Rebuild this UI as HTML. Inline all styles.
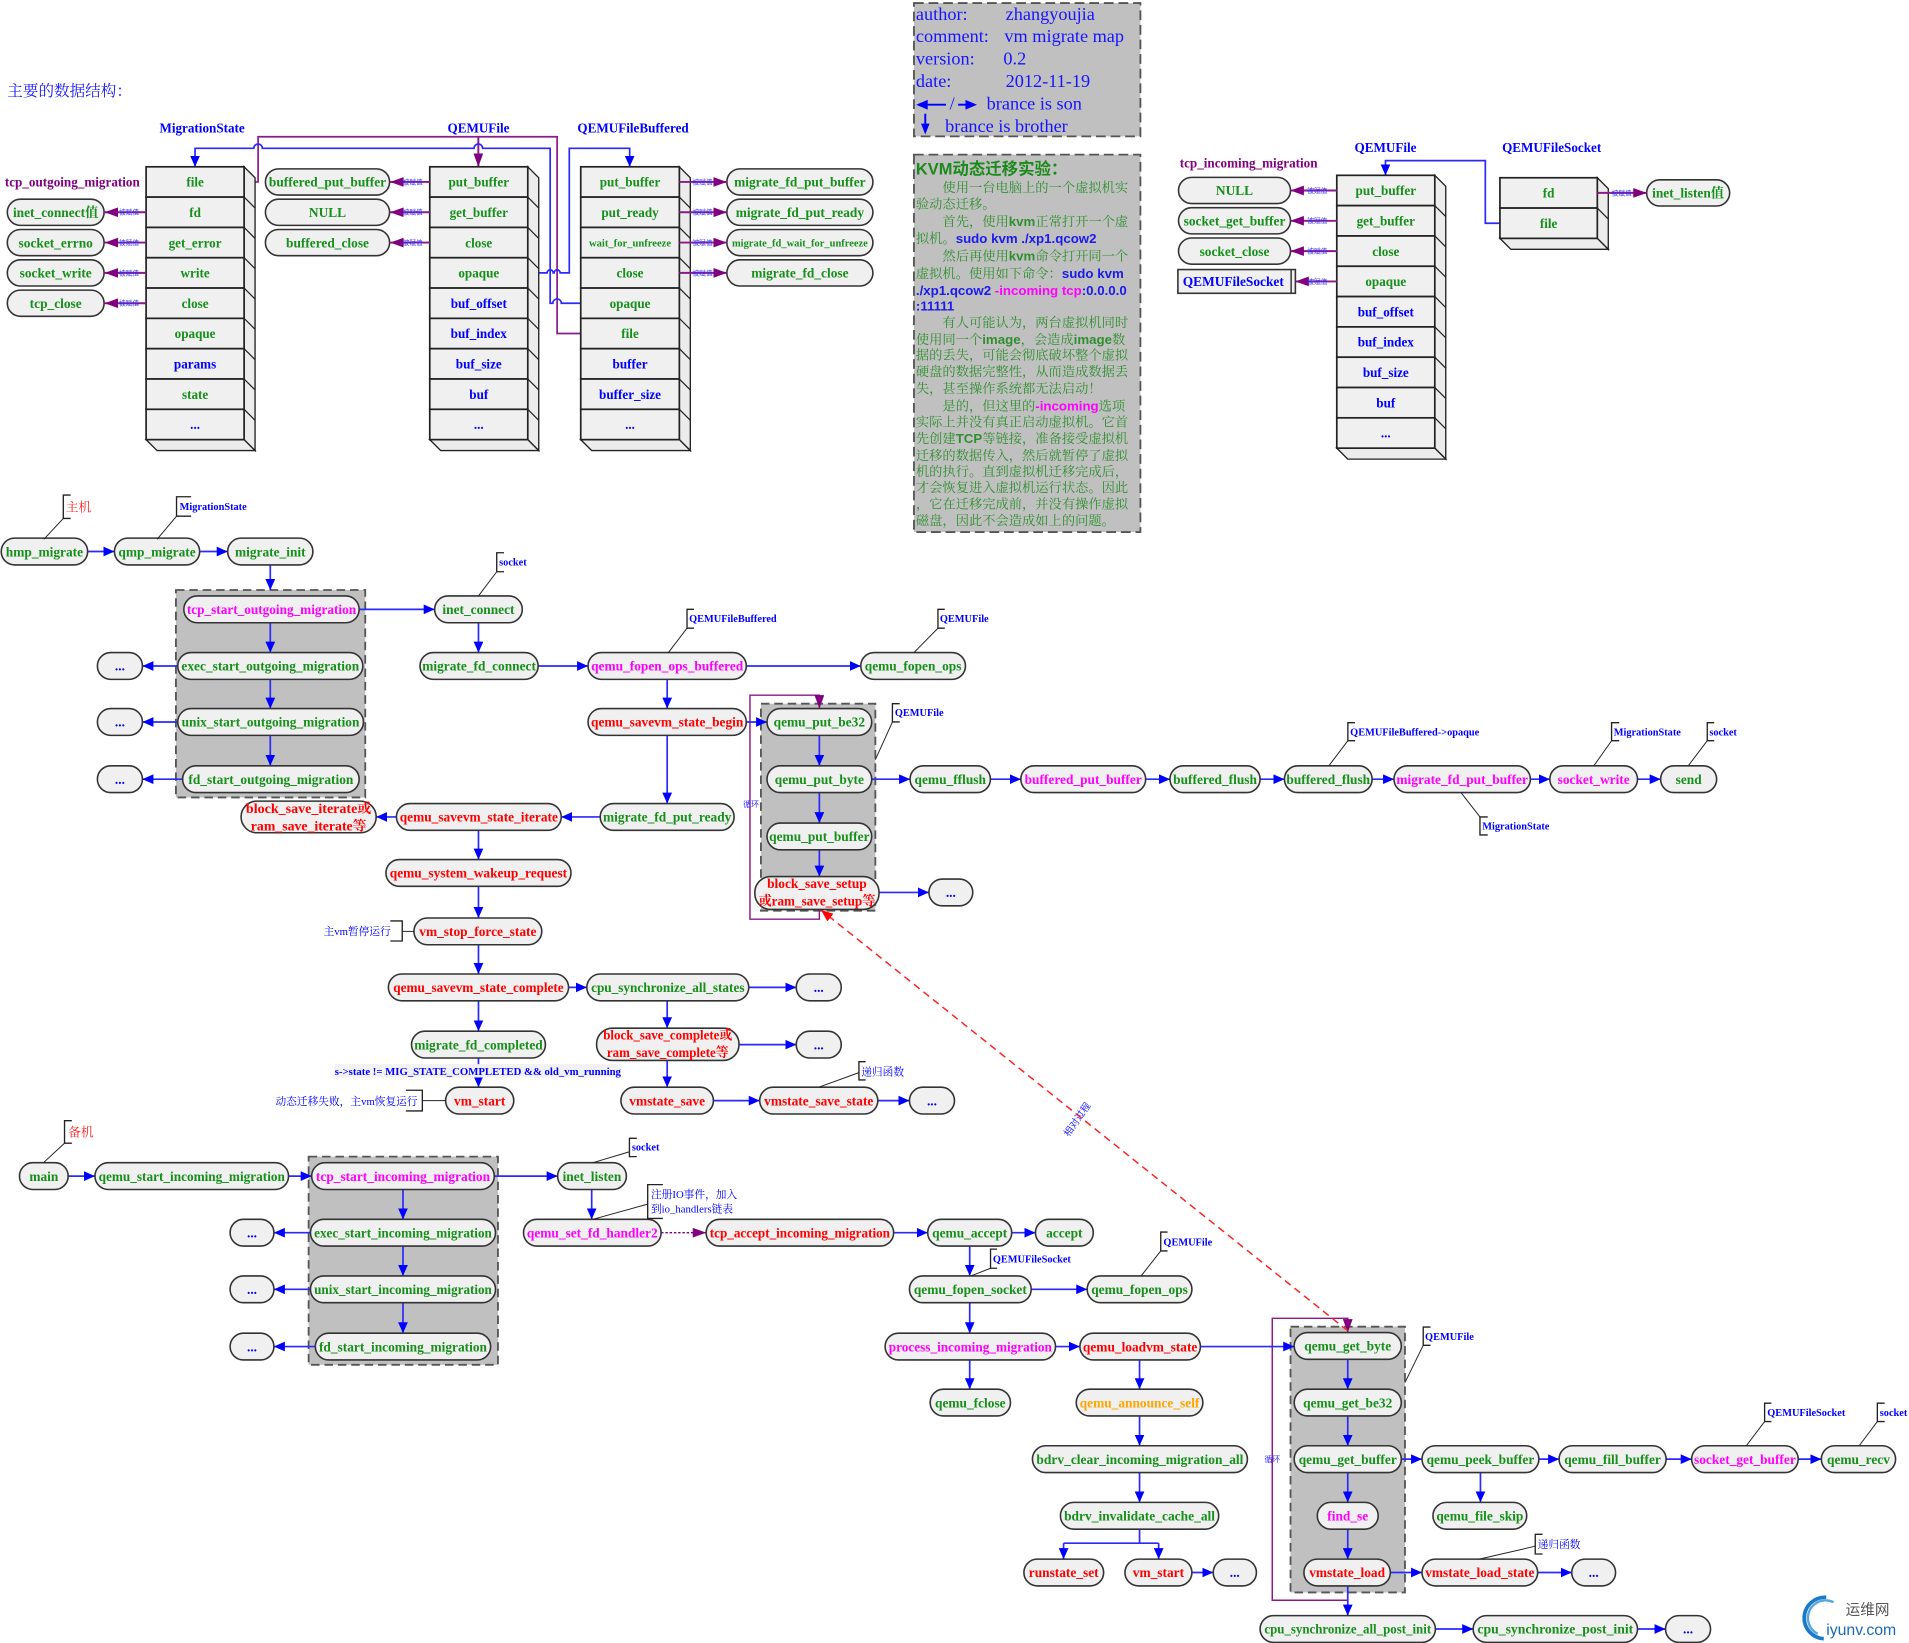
<!DOCTYPE html>
<html><head><meta charset="utf-8"><style>
html,body{margin:0;padding:0;background:#fff;}
svg{display:block}
.n{fill:#f0f0f0;stroke:#333;stroke-width:1.3}
.t{font-family:"Liberation Serif","Noto Serif CJK SC",serif;font-weight:bold;font-size:11px;text-anchor:middle}
.g{fill:#16901a}
.m{fill:#ff00ff}
.r{fill:#ff0000}
.b{fill:#0000ff}
.o{fill:#ffa500}
.p{fill:#800080}
.a{stroke:#2a2aff;stroke-width:1.4;fill:none;marker-end:url(#ab)}
.grp{fill:#c0c0c0;stroke:#555;stroke-width:1.5;stroke-dasharray:7 4}
.c{font-family:"Liberation Serif","Noto Serif CJK SC",serif;font-weight:bold;font-size:8.5px;fill:#0000ff}
.cz{font-family:"Liberation Serif","Noto Serif CJK SC",serif;font-size:8.8px;fill:#0000ff}
.br{fill:none;stroke:#222;stroke-width:1.1}
.ld{stroke:#222;stroke-width:0.8;fill:none}
.row{fill:#f0f0f0;stroke:#222;stroke-width:1.4}
.dp{fill:#ececec;stroke:#222;stroke-width:1.1}
.dg{stroke:#222;stroke-width:1}
.st{font-family:"Liberation Serif",serif;font-weight:bold;font-size:10.8px;text-anchor:middle}
.pa{stroke:#8a1a8a;stroke-width:1.6;fill:none;marker-end:url(#ap)}
.bz{font-family:"Noto Sans CJK SC",sans-serif;font-size:5.5px;fill:#3030ff;text-anchor:middle}
.kv{font-family:"Liberation Serif","Noto Serif CJK SC",serif;font-size:10.9px;fill:#2f8f2f}
.kb{font-family:"Liberation Sans",sans-serif;font-weight:bold}
.au{font-family:"Liberation Serif",serif;font-size:15px;fill:#1515ff}
</style></head><body>
<svg width="1909" height="1643" viewBox="0 0 1568 1349.5" preserveAspectRatio="none" xmlns="http://www.w3.org/2000/svg">
<defs>
<marker id="ab" markerUnits="userSpaceOnUse" markerWidth="9" markerHeight="8" refX="9" refY="4" orient="auto" viewBox="0 0 9 8"><path d="M0,0L9,4L0,8z" fill="#0000ff"/></marker>
<marker id="ap" markerUnits="userSpaceOnUse" markerWidth="11" markerHeight="8" refX="11" refY="4" orient="auto" viewBox="0 0 11 8"><path d="M0,0L11,4L0,8z" fill="#800080"/></marker>
<marker id="ar" markerUnits="userSpaceOnUse" markerWidth="10" markerHeight="8" refX="10" refY="4" orient="auto" viewBox="0 0 10 8"><path d="M0,0L10,4L0,8z" fill="#ff0000"/></marker>
</defs>
<rect x="0" y="0" width="1568" height="1349.5" fill="#fff"/>

<!-- ===== Title ===== -->
<text x="6" y="79" font-family="Liberation Serif,Noto Serif CJK SC,serif" font-size="12.8" fill="#1a1aff">主要的数据结构：</text>

<!-- ===== Struct labels ===== -->
<text class="st b" x="166" y="109">MigrationState</text>
<text class="st b" x="393" y="109">QEMUFile</text>
<text class="st b" x="520" y="109">QEMUFileBuffered</text>
<text class="st p" x="4" y="153" style="text-anchor:start">tcp_outgoing_migration</text>
<text class="st b" x="1138" y="125">QEMUFile</text>
<text class="st b" x="1274.5" y="125">QEMUFileSocket</text>
<text class="st p" x="969" y="137.5" style="text-anchor:start">tcp_incoming_migration</text>

<!-- ===== top connectors ===== -->
<path d="M200.5,149.45 H212 V112.3 H457.6 V273.95 H477" stroke="#8a1a8a" stroke-width="1.4" fill="none"/>
<path class="pa" d="M392.9,112.3 V137"/>
<path class="a" d="M477,249.05 H461.1 A3.5,3.5 0 0 0 454.1,249.05 H451.9 V121.8 H396.4 A3.5,3.5 0 0 0 389.4,121.8 H215.5 A3.5,3.5 0 0 0 208.5,121.8 H160.2 V137"/>
<path class="a" d="M433.5,224.15 H449.4 A2.5,2.5 0 0 1 454.4,224.15 H455.1 A2.5,2.5 0 0 1 460.1,224.15 H467.6 V121.8 H517.2 V137"/>
<path class="a" d="M1232,183.35 H1220 V131.9 H1138 V144"/>

<!-- ===== Struct A MigrationState ===== -->
<polygon class="dp" points="200.5,137 209.5,146 209.5,370.1 200.5,361.1"/>
<polygon class="dp" points="120,361.1 200.5,361.1 209.5,370.1 129,370.1"/>
<rect class="row" x="120" y="137" width="80.5" height="24.9"/>
<rect class="row" x="120" y="161.9" width="80.5" height="24.9"/>
<rect class="row" x="120" y="186.8" width="80.5" height="24.9"/>
<rect class="row" x="120" y="211.7" width="80.5" height="24.9"/>
<rect class="row" x="120" y="236.6" width="80.5" height="24.9"/>
<rect class="row" x="120" y="261.5" width="80.5" height="24.9"/>
<rect class="row" x="120" y="286.4" width="80.5" height="24.9"/>
<rect class="row" x="120" y="311.3" width="80.5" height="24.9"/>
<rect class="row" x="120" y="336.2" width="80.5" height="24.9"/>
<path class="dg" d="M200.5,161.9 l9,9 M200.5,186.8 l9,9 M200.5,211.7 l9,9 M200.5,236.6 l9,9 M200.5,261.5 l9,9 M200.5,286.4 l9,9 M200.5,311.3 l9,9 M200.5,336.2 l9,9"/>
<text class="st g" x="160.25" y="153.3">file</text>
<text class="st g" x="160.25" y="178.2">fd</text>
<text class="st g" x="160.25" y="203.1">get_error</text>
<text class="st g" x="160.25" y="228">write</text>
<text class="st g" x="160.25" y="252.9">close</text>
<text class="st g" x="160.25" y="277.8">opaque</text>
<text class="st b" x="160.25" y="302.7">params</text>
<text class="st g" x="160.25" y="327.6">state</text>
<text class="st b" x="160.25" y="352.5">...</text>

<!-- ovals A -->
<rect class="n" x="6" y="163.6" width="79.5" height="21.5" rx="10.75"/>
<rect class="n" x="6" y="188.5" width="79.5" height="21.5" rx="10.75"/>
<rect class="n" x="6" y="213.4" width="79.5" height="21.5" rx="10.75"/>
<rect class="n" x="6" y="238.3" width="79.5" height="21.5" rx="10.75"/>
<text class="t g" x="45.75" y="178.2">inet_connect值</text>
<text class="t g" x="45.75" y="203.1">socket_errno</text>
<text class="t g" x="45.75" y="228">socket_write</text>
<text class="t g" x="45.75" y="252.9">tcp_close</text>
<path class="pa" d="M120,174.35 H86"/>
<path class="pa" d="M120,199.25 H86"/>
<path class="pa" d="M120,224.15 H86"/>
<path class="pa" d="M120,249.05 H86"/>
<text class="bz" x="106" y="176.3">被赋值</text>
<text class="bz" x="106" y="201.2">被赋值</text>
<text class="bz" x="106" y="226.1">被赋值</text>
<text class="bz" x="106" y="251">被赋值</text>

<!-- ===== Struct B QEMUFile (out) ===== -->
<polygon class="dp" points="433.5,137 442.5,146 442.5,370.1 433.5,361.1"/>
<polygon class="dp" points="353,361.1 433.5,361.1 442.5,370.1 362,370.1"/>
<rect class="row" x="353" y="137" width="80.5" height="24.9"/>
<rect class="row" x="353" y="161.9" width="80.5" height="24.9"/>
<rect class="row" x="353" y="186.8" width="80.5" height="24.9"/>
<rect class="row" x="353" y="211.7" width="80.5" height="24.9"/>
<rect class="row" x="353" y="236.6" width="80.5" height="24.9"/>
<rect class="row" x="353" y="261.5" width="80.5" height="24.9"/>
<rect class="row" x="353" y="286.4" width="80.5" height="24.9"/>
<rect class="row" x="353" y="311.3" width="80.5" height="24.9"/>
<rect class="row" x="353" y="336.2" width="80.5" height="24.9"/>
<path class="dg" d="M433.5,161.9 l9,9 M433.5,186.8 l9,9 M433.5,211.7 l9,9 M433.5,236.6 l9,9 M433.5,261.5 l9,9 M433.5,286.4 l9,9 M433.5,311.3 l9,9 M433.5,336.2 l9,9"/>
<text class="st g" x="393.25" y="153.3">put_buffer</text>
<text class="st g" x="393.25" y="178.2">get_buffer</text>
<text class="st g" x="393.25" y="203.1">close</text>
<text class="st g" x="393.25" y="228">opaque</text>
<text class="st b" x="393.25" y="252.9">buf_offset</text>
<text class="st b" x="393.25" y="277.8">buf_index</text>
<text class="st b" x="393.25" y="302.7">buf_size</text>
<text class="st b" x="393.25" y="327.6">buf</text>
<text class="st b" x="393.25" y="352.5">...</text>

<rect class="n" x="218" y="138.7" width="102" height="21.5" rx="10.75"/>
<rect class="n" x="218" y="163.6" width="102" height="21.5" rx="10.75"/>
<rect class="n" x="218" y="188.5" width="102" height="21.5" rx="10.75"/>
<text class="t g" x="269" y="153.3">buffered_put_buffer</text>
<text class="t g" x="269" y="178.2">NULL</text>
<text class="t g" x="269" y="203.1">buffered_close</text>
<path class="pa" d="M353,149.45 H320.5"/>
<path class="pa" d="M353,174.35 H320.5"/>
<path class="pa" d="M353,199.25 H320.5"/>
<text class="bz" x="339" y="151.4">被赋值</text>
<text class="bz" x="339" y="176.3">被赋值</text>
<text class="bz" x="339" y="201.2">被赋值</text>

<!-- ===== Struct C QEMUFileBuffered ===== -->
<polygon class="dp" points="558,137 567,146 567,370.1 558,361.1"/>
<polygon class="dp" points="477,361.1 558,361.1 567,370.1 486,370.1"/>
<rect class="row" x="477" y="137" width="81" height="24.9"/>
<rect class="row" x="477" y="161.9" width="81" height="24.9"/>
<rect class="row" x="477" y="186.8" width="81" height="24.9"/>
<rect class="row" x="477" y="211.7" width="81" height="24.9"/>
<rect class="row" x="477" y="236.6" width="81" height="24.9"/>
<rect class="row" x="477" y="261.5" width="81" height="24.9"/>
<rect class="row" x="477" y="286.4" width="81" height="24.9"/>
<rect class="row" x="477" y="311.3" width="81" height="24.9"/>
<rect class="row" x="477" y="336.2" width="81" height="24.9"/>
<path class="dg" d="M558,161.9 l9,9 M558,186.8 l9,9 M558,211.7 l9,9 M558,236.6 l9,9 M558,261.5 l9,9 M558,286.4 l9,9 M558,311.3 l9,9 M558,336.2 l9,9"/>
<text class="st g" x="517.5" y="153.3">put_buffer</text>
<text class="st g" x="517.5" y="178.2">put_ready</text>
<text class="st g" x="517.5" y="202.6" style="font-size:8.7px">wait_for_unfreeze</text>
<text class="st g" x="517.5" y="228">close</text>
<text class="st g" x="517.5" y="252.9">opaque</text>
<text class="st g" x="517.5" y="277.8">file</text>
<text class="st b" x="517.5" y="302.7">buffer</text>
<text class="st b" x="517.5" y="327.6">buffer_size</text>
<text class="st b" x="517.5" y="352.5">...</text>

<rect class="n" x="597" y="138.7" width="120" height="21.5" rx="10.75"/>
<rect class="n" x="597" y="163.6" width="120" height="21.5" rx="10.75"/>
<rect class="n" x="597" y="188.5" width="120" height="21.5" rx="10.75"/>
<rect class="n" x="597" y="213.4" width="120" height="21.5" rx="10.75"/>
<text class="t g" x="657" y="153.3">migrate_fd_put_buffer</text>
<text class="t g" x="657" y="178.2">migrate_fd_put_ready</text>
<text class="t g" x="657" y="202.4" style="font-size:8.6px">migrate_fd_wait_for_unfreeze</text>
<text class="t g" x="657" y="228">migrate_fd_close</text>
<path class="pa" d="M558,149.45 H597"/>
<path class="pa" d="M558,174.35 H597"/>
<path class="pa" d="M558,199.25 H597"/>
<path class="pa" d="M558,224.15 H597"/>
<text class="bz" x="577" y="151.4">被赋值</text>
<text class="bz" x="577" y="176.3">被赋值</text>
<text class="bz" x="577" y="201.2">被赋值</text>
<text class="bz" x="577" y="226.1">被赋值</text>

<!-- ===== Struct D QEMUFile (in) ===== -->
<polygon class="dp" points="1178.5,144 1187.5,153 1187.5,377.1 1178.5,368.1"/>
<polygon class="dp" points="1098,368.1 1178.5,368.1 1187.5,377.1 1107,377.1"/>
<rect class="row" x="1098" y="144" width="80.5" height="24.9"/>
<rect class="row" x="1098" y="168.9" width="80.5" height="24.9"/>
<rect class="row" x="1098" y="193.8" width="80.5" height="24.9"/>
<rect class="row" x="1098" y="218.7" width="80.5" height="24.9"/>
<rect class="row" x="1098" y="243.6" width="80.5" height="24.9"/>
<rect class="row" x="1098" y="268.5" width="80.5" height="24.9"/>
<rect class="row" x="1098" y="293.4" width="80.5" height="24.9"/>
<rect class="row" x="1098" y="318.3" width="80.5" height="24.9"/>
<rect class="row" x="1098" y="343.2" width="80.5" height="24.9"/>
<path class="dg" d="M1178.5,168.9 l9,9 M1178.5,193.8 l9,9 M1178.5,218.7 l9,9 M1178.5,243.6 l9,9 M1178.5,268.5 l9,9 M1178.5,293.4 l9,9 M1178.5,318.3 l9,9 M1178.5,343.2 l9,9"/>
<text class="st g" x="1138.25" y="160.3">put_buffer</text>
<text class="st g" x="1138.25" y="185.2">get_buffer</text>
<text class="st g" x="1138.25" y="210.1">close</text>
<text class="st g" x="1138.25" y="235">opaque</text>
<text class="st b" x="1138.25" y="259.9">buf_offset</text>
<text class="st b" x="1138.25" y="284.8">buf_index</text>
<text class="st b" x="1138.25" y="309.7">buf_size</text>
<text class="st b" x="1138.25" y="334.6">buf</text>
<text class="st b" x="1138.25" y="359.5">...</text>

<rect class="n" x="968" y="145.7" width="92" height="21.5" rx="10.75"/>
<rect class="n" x="968" y="170.6" width="92" height="21.5" rx="10.75"/>
<rect class="n" x="968" y="195.5" width="92" height="21.5" rx="10.75"/>
<rect x="967.5" y="221.4" width="96.5" height="19.5" fill="#f0f0f0" stroke="#333" stroke-width="1.3"/>
<line x1="1060.5" y1="221.4" x2="1060.5" y2="240.9" stroke="#333" stroke-width="1.2"/>
<text class="t g" x="1014" y="160.3">NULL</text>
<text class="t g" x="1014" y="185.2">socket_get_buffer</text>
<text class="t g" x="1014" y="210.1">socket_close</text>
<text class="t b" x="1013" y="235">QEMUFileSocket</text>
<path class="pa" d="M1098,156.45 H1060"/>
<path class="pa" d="M1098,181.35 H1060"/>
<path class="pa" d="M1098,206.25 H1060"/>
<path class="pa" d="M1098,231.15 H1064"/>
<text class="bz" x="1082" y="158.4">被赋值</text>
<text class="bz" x="1082" y="183.3">被赋值</text>
<text class="bz" x="1082" y="208.2">被赋值</text>
<text class="bz" x="1082" y="233.1">被赋值</text>

<!-- ===== Struct E QEMUFileSocket ===== -->
<polygon class="dp" points="1312,146 1321,155 1321,204.8 1312,195.8"/>
<polygon class="dp" points="1232,195.8 1312,195.8 1321,204.8 1241,204.8"/>
<rect class="row" x="1232" y="146" width="80" height="24.9"/>
<rect class="row" x="1232" y="170.9" width="80" height="24.9"/>
<path class="dg" d="M1312,170.9 l9,9"/>
<text class="st g" x="1272" y="162.3">fd</text>
<text class="st g" x="1272" y="187.2">file</text>
<rect class="n" x="1352.5" y="147.7" width="68.2" height="21.5" rx="10.75"/>
<text class="t g" x="1386.6" y="162.3">inet_listen值</text>
<path class="pa" d="M1312,158.45 H1352.5"/>
<text class="bz" x="1332" y="160.4">被赋值</text>

<!-- ===== Author box ===== -->
<rect x="750.7" y="2.5" width="186" height="109.5" fill="#c0c0c0" stroke="#555" stroke-width="1.5" stroke-dasharray="8 4"/>
<text class="au" x="752.3" y="16.3">author:</text>
<text class="au" x="826" y="16.3">zhangyoujia</text>
<text class="au" x="752.3" y="34.7">comment:</text>
<text class="au" x="825" y="34.7">vm migrate map</text>
<text class="au" x="752.3" y="53.1">version:</text>
<text class="au" x="824.2" y="53.1">0.2</text>
<text class="au" x="752.3" y="71.5">date:</text>
<text class="au" x="826" y="71.5">2012-11-19</text>
<path d="M777,86 H760" stroke="#0000ff" stroke-width="1.6"/>
<path d="M752.5,86 L762,82 L762,90 z" fill="#0000ff"/>
<text class="au" x="780" y="89.9">/</text>
<path d="M787,86 H795" stroke="#0000ff" stroke-width="1.6"/>
<path d="M802.5,86 L793,82 L793,90 z" fill="#0000ff"/>
<text class="au" x="810.4" y="89.9">brance is son</text>
<path d="M760,93.4 V103" stroke="#0000ff" stroke-width="1.6"/>
<path d="M760,110.5 L756.5,101.5 L763.5,101.5 z" fill="#0000ff"/>
<text class="au" x="776.3" y="108.3">brance is brother</text>

<!-- ===== KVM box ===== -->
<rect x="750.7" y="127" width="186" height="310" fill="#c0c0c0" stroke="#555" stroke-width="1.5" stroke-dasharray="8 4"/>
<text x="752.3" y="143.5" font-size="13.5" font-weight="bold" fill="#1a8a1a" font-family="Liberation Sans,Noto Sans CJK SC,sans-serif">KVM动态迁移实验：</text>
<text class="kv" x="774.1" y="157.5">使用一台电脑上的一个虚拟机实</text>
<text class="kv" x="752.3" y="171.4">验动态迁移。</text>
<text class="kv" x="774.1" y="185.8">首先，使用<tspan class="kb">kvm</tspan>正常打开一个虚</text>
<text class="kv" x="752.3" y="199.7">拟机。<tspan class="kb" fill="#1a1aee">sudo kvm ./xp1.qcow2</tspan></text>
<text class="kv" x="774.1" y="214.1">然后再使用<tspan class="kb">kvm</tspan>命令打开同一个</text>
<text class="kv" x="752.3" y="228.2">虚拟机。使用如下命令：<tspan class="kb" fill="#1a1aee">sudo kvm</tspan></text>
<text class="kv" x="752.3" y="242.1"><tspan class="kb" fill="#1a1aee">./xp1.qcow2 </tspan><tspan class="kb" fill="#ff00ff">-incoming tcp</tspan><tspan class="kb" fill="#1a1aee">:0.0.0.0</tspan></text>
<text class="kv" x="752.3" y="255.1"><tspan class="kb" fill="#1a1aee">:11111</tspan></text>
<text class="kv" x="774.1" y="268.4">有人可能认为，两台虚拟机同时</text>
<text class="kv" x="752.3" y="282.6">使用同一个<tspan class="kb">image</tspan>，会造成<tspan class="kb">image</tspan>数</text>
<text class="kv" x="752.3" y="295.3">据的丢失，可能会彻底破坏整个虚拟</text>
<text class="kv" x="752.3" y="308.9">硬盘的数据完整性，从而造成数据丢</text>
<text class="kv" x="752.3" y="322.7">失，甚至操作系统都无法启动！</text>
<text class="kv" x="774.1" y="337.2">是的，但这里的<tspan class="kb" fill="#ff00ff">-incoming</tspan>选项</text>
<text class="kv" x="752.3" y="350.5">实际上并没有真正启动虚拟机。它首</text>
<text class="kv" x="752.3" y="364">先创建<tspan class="kb">TCP</tspan>等链接，准备接受虚拟机</text>
<text class="kv" x="752.3" y="377.9">迁移的数据传入，然后就暂停了虚拟</text>
<text class="kv" x="752.3" y="390.9">机的执行。直到虚拟机迁移完成后，</text>
<text class="kv" x="752.3" y="404.2">才会恢复进入虚拟机运行状态。因此</text>
<text class="kv" x="752.3" y="417.5">，它在迁移完成前，并没有操作虚拟</text>
<text class="kv" x="752.3" y="431.1">磁盘，因此不会造成如上的问题。</text>

<!-- ===== Groups ===== -->
<rect class="grp" x="144.5" y="484.6" width="155.5" height="170.4"/>
<rect class="grp" x="625" y="578" width="94" height="170"/>
<rect class="grp" x="253.5" y="950" width="155.5" height="171"/>
<rect class="grp" x="1060" y="1089.7" width="94" height="218.3"/>

<!-- ===== Loops ===== -->
<path class="pa" d="M673,747 V755 H616 V571 H673 V582" style="stroke-width:1.2"/>
<path class="pa" d="M1107,1302.6 V1314.4 H1045 V1082.8 H1107 V1094.5" style="stroke-width:1.2"/>
<text x="617" y="663" font-size="6.5" fill="#3030ff" font-family="Noto Sans CJK SC,sans-serif" text-anchor="middle">循环</text>
<text x="1045" y="1201" font-size="6.5" fill="#3030ff" font-family="Noto Sans CJK SC,sans-serif" text-anchor="middle">循环</text>

<!-- ===== Host arrows ===== -->
<path class="a" d="M72,453 H94"/>
<path class="a" d="M164,453 H187"/>
<path class="a" d="M222,464 V484.6"/>
<path class="a" d="M222,511.5 V536"/>
<path class="a" d="M222,558 V582"/>
<path class="a" d="M222,604 V629"/>
<path class="a" d="M146,547 H117"/>
<path class="a" d="M146,593 H117"/>
<path class="a" d="M150,640 H117"/>
<path class="a" d="M295,500.5 H357"/>
<path class="a" d="M393,511.5 V536"/>
<path class="a" d="M442,547 H483"/>
<path class="a" d="M613,547 H707"/>
<path class="a" d="M548,558 V582"/>
<path class="a" d="M613,593 H630"/>
<path class="a" d="M548,604 V660"/>
<path class="a" d="M493,671 H461"/>
<path class="a" d="M325.6,671 H309"/>
<path class="a" d="M393,682 V706"/>
<path class="a" d="M393,728 V754"/>
<path class="a" d="M393,776 V800"/>
<path class="a" d="M467,811 H482"/>
<path class="a" d="M615,811 H654"/>
<path class="a" d="M548,822 V844.5"/>
<path class="a" d="M607,858 H654"/>
<path class="a" d="M548,871 V893"/>
<path class="a" d="M586,904 H624"/>
<path class="a" d="M721,904 H747"/>
<path class="a" d="M393,822 V847"/>
<path class="a" d="M393,869 V893"/>
<path class="a" d="M673,604 V629"/>
<path class="a" d="M673,651 V676"/>
<path class="a" d="M673,698 V720"/>
<path class="a" d="M722,733 H763"/>
<path class="a" d="M716,640 H747.5"/>
<path class="a" d="M813.5,640 H838.5"/>
<path class="a" d="M941,640 H961"/>
<path class="a" d="M1035,640 H1055"/>
<path class="a" d="M1127,640 H1145"/>
<path class="a" d="M1257,640 H1273"/>
<path class="a" d="M1345,640 H1364"/>

<!-- ===== Receiver arrows ===== -->
<path class="a" d="M56,966 H78"/>
<path class="a" d="M237,966 H256"/>
<path class="a" d="M331,977 V1001.5"/>
<path class="a" d="M331,1023.5 V1048"/>
<path class="a" d="M331,1070 V1095"/>
<path class="a" d="M255,1012.5 H225"/>
<path class="a" d="M255,1059 H225"/>
<path class="a" d="M259,1106 H225"/>
<path class="a" d="M406,966 H458"/>
<path class="a" d="M486,977 V1001.5"/>
<path d="M543,1012.5 H580" stroke="#800080" stroke-width="1.2" stroke-dasharray="2 1.5" fill="none" marker-end="url(#ap)"/>
<path class="a" d="M734,1012.5 H762"/>
<path class="a" d="M831,1012.5 H850.5"/>
<path class="a" d="M796.5,1023.5 V1048"/>
<path class="a" d="M847,1059 H893"/>
<path class="a" d="M796.5,1070 V1095"/>
<path class="a" d="M867,1106 H887"/>
<path class="a" d="M796.5,1117 V1141"/>
<path class="a" d="M986,1106 H1063"/>
<path class="a" d="M936,1117 V1141"/>
<path class="a" d="M936,1163 V1187.5"/>
<path class="a" d="M936,1209.5 V1234"/>
<path d="M936,1256 V1267.5 M873.6,1267.5 H951.7" stroke="#2a2aff" stroke-width="1.4" fill="none"/>
<path class="a" d="M873.6,1267.5 V1280.6"/>
<path class="a" d="M951.7,1267.5 V1280.6"/>
<path class="a" d="M979,1291.6 H996.5"/>
<path class="a" d="M1107,1116.5 V1141"/>
<path class="a" d="M1107,1163 V1187.5"/>
<path class="a" d="M1107,1209.5 V1234"/>
<path class="a" d="M1107,1256 V1280.6"/>
<path class="a" d="M1107,1302.6 V1327"/>
<path class="a" d="M1151,1198.5 H1168"/>
<path class="a" d="M1264,1198.5 H1280.6"/>
<path class="a" d="M1368.5,1198.5 H1389.5"/>
<path class="a" d="M1477,1198.5 H1496"/>
<path class="a" d="M1216,1209.5 V1234"/>
<path class="a" d="M1142,1291.6 H1168"/>
<path class="a" d="M1263,1291.6 H1291"/>
<path class="a" d="M1179,1338 H1210"/>
<path class="a" d="M1345,1338 H1368"/>

<!-- red dashed relation -->
<path d="M1107,1093 L674.3,747.4" stroke="#ff2020" stroke-width="1.2" stroke-dasharray="6 4" fill="none" marker-end="url(#ar)"/>
<text transform="translate(887,921) rotate(-55)" font-size="8" fill="#3030ff" text-anchor="middle" font-family="Noto Sans CJK SC,sans-serif">相对过程</text>

<!-- ===== Host nodes ===== -->
<rect class="n" x="1" y="442" width="71" height="22" rx="11"/><text class="t g" x="36.5" y="456.9">hmp_migrate</text>
<rect class="n" x="94" y="442" width="70" height="22" rx="11"/><text class="t g" x="129" y="456.9">qmp_migrate</text>
<rect class="n" x="187" y="442" width="70" height="22" rx="11"/><text class="t g" x="222" y="456.9">migrate_init</text>
<rect class="n" x="151" y="489.5" width="144" height="22" rx="11"/><text class="t m" x="223" y="504.4" textLength="139" lengthAdjust="spacingAndGlyphs">tcp_start_outgoing_migration</text>
<rect class="n" x="146" y="536" width="152" height="22" rx="11"/><text class="t g" x="222" y="550.9" textLength="146" lengthAdjust="spacingAndGlyphs">exec_start_outgoing_migration</text>
<rect class="n" x="146" y="582" width="152.5" height="22" rx="11"/><text class="t g" x="222.2" y="596.9" textLength="146" lengthAdjust="spacingAndGlyphs">unix_start_outgoing_migration</text>
<rect class="n" x="150" y="629" width="145" height="22" rx="11"/><text class="t g" x="222.5" y="643.9">fd_start_outgoing_migration</text>
<rect class="n" x="80" y="536" width="37" height="22" rx="11"/><text class="t b" x="98.5" y="550.9">...</text>
<rect class="n" x="80" y="582" width="37" height="22" rx="11"/><text class="t b" x="98.5" y="596.9">...</text>
<rect class="n" x="80" y="629" width="37" height="22" rx="11"/><text class="t b" x="98.5" y="643.9">...</text>
<rect class="n" x="357" y="489.5" width="72" height="22" rx="11"/><text class="t g" x="393" y="504.4">inet_connect</text>
<rect class="n" x="345" y="536" width="97" height="22" rx="11"/><text class="t g" x="393.5" y="550.9">migrate_fd_connect</text>
<rect class="n" x="483" y="536" width="130" height="22" rx="11"/><text class="t m" x="548" y="550.9">qemu_fopen_ops_buffered</text>
<rect class="n" x="707" y="536" width="86" height="22" rx="11"/><text class="t g" x="750" y="550.9">qemu_fopen_ops</text>
<rect class="n" x="483" y="582" width="130" height="22" rx="11"/><text class="t r" x="548" y="596.9">qemu_savevm_state_begin</text>
<rect class="n" x="493" y="660" width="110" height="22" rx="11"/><text class="t g" x="548" y="674.9">migrate_fd_put_ready</text>
<rect class="n" x="325.6" y="660" width="135.4" height="22" rx="11"/><text class="t r" x="393.3" y="674.9">qemu_savevm_state_iterate</text>
<rect class="n" x="198" y="658" width="111" height="26" rx="13"/><text class="t r" x="253.5" y="667.9" textLength="103" lengthAdjust="spacingAndGlyphs">block_save_iterate或</text><text class="t r" x="253.5" y="682.1" textLength="95" lengthAdjust="spacingAndGlyphs">ram_save_iterate等</text>
<rect class="n" x="317" y="706" width="152" height="22" rx="11"/><text class="t r" x="393" y="720.9">qemu_system_wakeup_request</text>
<rect class="n" x="340" y="754" width="105" height="22" rx="11"/><text class="t r" x="392.5" y="768.9">vm_stop_force_state</text>
<rect class="n" x="319" y="800" width="148" height="22" rx="11"/><text class="t r" x="393" y="814.9" textLength="140" lengthAdjust="spacingAndGlyphs">qemu_savevm_state_complete</text>
<rect class="n" x="482" y="800" width="133" height="22" rx="11"/><text class="t g" x="548.5" y="814.9" textLength="126" lengthAdjust="spacingAndGlyphs">cpu_synchronize_all_states</text>
<rect class="n" x="654" y="800" width="37" height="22" rx="11"/><text class="t b" x="672.5" y="814.9">...</text>
<rect class="n" x="338" y="847" width="110" height="22" rx="11"/><text class="t g" x="393" y="861.9">migrate_fd_completed</text>
<rect class="n" x="490" y="844.5" width="117" height="26.5" rx="13"/><text class="t r" x="548.5" y="853.9" textLength="106" lengthAdjust="spacingAndGlyphs">block_save_complete或</text><text class="t r" x="548.5" y="868" textLength="100" lengthAdjust="spacingAndGlyphs">ram_save_complete等</text>
<rect class="n" x="654" y="847" width="37" height="22" rx="11"/><text class="t b" x="672.5" y="861.9">...</text>
<rect class="n" x="366" y="893" width="56" height="22" rx="11"/><text class="t r" x="394" y="907.9">vm_start</text>
<rect class="n" x="510" y="893" width="76" height="22" rx="11"/><text class="t r" x="548" y="907.9">vmstate_save</text>
<rect class="n" x="624" y="893" width="97" height="22" rx="11"/><text class="t r" x="672.5" y="907.9">vmstate_save_state</text>
<rect class="n" x="747" y="893" width="37" height="22" rx="11"/><text class="t b" x="765.5" y="907.9">...</text>
<rect class="n" x="630" y="582" width="86" height="22" rx="11"/><text class="t g" x="673" y="596.9">qemu_put_be32</text>
<rect class="n" x="630" y="629" width="86" height="22" rx="11"/><text class="t g" x="673" y="643.9">qemu_put_byte</text>
<rect class="n" x="630" y="676" width="86" height="22" rx="11"/><text class="t g" x="673" y="690.9">qemu_put_buffer</text>
<rect class="n" x="620" y="720" width="102" height="27" rx="13"/><text class="t r" x="671" y="729.4">block_save_setup</text><text class="t r" x="671" y="743.7" textLength="96" lengthAdjust="spacingAndGlyphs">或ram_save_setup等</text>
<rect class="n" x="763" y="722" width="36" height="22" rx="11"/><text class="t b" x="781" y="736.9">...</text>
<rect class="n" x="747.5" y="629" width="66" height="22" rx="11"/><text class="t g" x="780.5" y="643.9">qemu_fflush</text>
<rect class="n" x="838.5" y="629" width="102.5" height="22" rx="11"/><text class="t m" x="889.7" y="643.9">buffered_put_buffer</text>
<rect class="n" x="961" y="629" width="74" height="22" rx="11"/><text class="t g" x="998" y="643.9">buffered_flush</text>
<rect class="n" x="1055" y="629" width="72" height="22" rx="11"/><text class="t g" x="1091" y="643.9">buffered_flush</text>
<rect class="n" x="1145" y="629" width="112" height="22" rx="11"/><text class="t m" x="1201" y="643.9">migrate_fd_put_buffer</text>
<rect class="n" x="1273" y="629" width="72" height="22" rx="11"/><text class="t m" x="1309" y="643.9">socket_write</text>
<rect class="n" x="1364" y="629" width="46" height="22" rx="11"/><text class="t g" x="1387" y="643.9">send</text>

<!-- ===== Receiver nodes ===== -->
<rect class="n" x="16" y="955" width="40" height="22" rx="11"/><text class="t g" x="36" y="969.9">main</text>
<rect class="n" x="78" y="955" width="159" height="22" rx="11"/><text class="t g" x="157.5" y="969.9" textLength="153" lengthAdjust="spacingAndGlyphs">qemu_start_incoming_migration</text>
<rect class="n" x="256" y="955" width="150" height="22" rx="11"/><text class="t m" x="331" y="969.9" textLength="143" lengthAdjust="spacingAndGlyphs">tcp_start_incoming_migration</text>
<rect class="n" x="255" y="1001.5" width="152" height="22" rx="11"/><text class="t g" x="331" y="1016.4" textLength="146" lengthAdjust="spacingAndGlyphs">exec_start_incoming_migration</text>
<rect class="n" x="255" y="1048" width="152" height="22" rx="11"/><text class="t g" x="331" y="1062.9" textLength="146" lengthAdjust="spacingAndGlyphs">unix_start_incoming_migration</text>
<rect class="n" x="259" y="1095" width="144" height="22" rx="11"/><text class="t g" x="331" y="1109.9" textLength="138" lengthAdjust="spacingAndGlyphs">fd_start_incoming_migration</text>
<rect class="n" x="189" y="1001.5" width="36" height="22" rx="11"/><text class="t b" x="207" y="1016.4">...</text>
<rect class="n" x="189" y="1048" width="36" height="22" rx="11"/><text class="t b" x="207" y="1062.9">...</text>
<rect class="n" x="189" y="1095" width="36" height="22" rx="11"/><text class="t b" x="207" y="1109.9">...</text>
<rect class="n" x="458" y="955" width="56.5" height="22" rx="11"/><text class="t g" x="486.2" y="969.9">inet_listen</text>
<rect class="n" x="430" y="1001.5" width="113" height="22" rx="11"/><text class="t m" x="486.5" y="1016.4">qemu_set_fd_handler2</text>
<rect class="n" x="580" y="1001.5" width="154" height="22" rx="11"/><text class="t r" x="657" y="1016.4" textLength="148" lengthAdjust="spacingAndGlyphs">tcp_accept_incoming_migration</text>
<rect class="n" x="762" y="1001.5" width="69" height="22" rx="11"/><text class="t g" x="796.5" y="1016.4">qemu_accept</text>
<rect class="n" x="850.5" y="1001.5" width="47.5" height="22" rx="11"/><text class="t g" x="874.2" y="1016.4">accept</text>
<rect class="n" x="747" y="1048" width="100" height="22" rx="11"/><text class="t g" x="797" y="1062.9">qemu_fopen_socket</text>
<rect class="n" x="893" y="1048" width="86" height="22" rx="11"/><text class="t g" x="936" y="1062.9">qemu_fopen_ops</text>
<rect class="n" x="727" y="1095" width="140" height="22" rx="11"/><text class="t m" x="797" y="1109.9" textLength="134" lengthAdjust="spacingAndGlyphs">process_incoming_migration</text>
<rect class="n" x="887" y="1095" width="99" height="22" rx="11"/><text class="t r" x="936.5" y="1109.9">qemu_loadvm_state</text>
<rect class="n" x="764" y="1141" width="66" height="22" rx="11"/><text class="t g" x="797" y="1155.9">qemu_fclose</text>
<rect class="n" x="884" y="1141" width="104" height="22" rx="11"/><text class="t o" x="936" y="1155.9">qemu_announce_self</text>
<rect class="n" x="848" y="1187.5" width="176.6" height="22" rx="11"/><text class="t g" x="936.3" y="1202.4" textLength="170" lengthAdjust="spacingAndGlyphs">bdrv_clear_incoming_migration_all</text>
<rect class="n" x="871" y="1234" width="130" height="22" rx="11"/><text class="t g" x="936" y="1248.9" textLength="124" lengthAdjust="spacingAndGlyphs">bdrv_invalidate_cache_all</text>
<rect class="n" x="841" y="1280.6" width="65.5" height="22" rx="11"/><text class="t r" x="873.7" y="1295.5">runstate_set</text>
<rect class="n" x="924" y="1280.6" width="55" height="22" rx="11"/><text class="t r" x="951.5" y="1295.5">vm_start</text>
<rect class="n" x="996.5" y="1280.6" width="35.5" height="22" rx="11"/><text class="t b" x="1014.2" y="1295.5">...</text>
<rect class="n" x="1063" y="1094.5" width="88" height="22" rx="11"/><text class="t g" x="1107" y="1109.4">qemu_get_byte</text>
<rect class="n" x="1063" y="1141" width="88" height="22" rx="11"/><text class="t g" x="1107" y="1155.9">qemu_get_be32</text>
<rect class="n" x="1063" y="1187.5" width="88" height="22" rx="11"/><text class="t g" x="1107" y="1202.4">qemu_get_buffer</text>
<rect class="n" x="1082" y="1234" width="50" height="22" rx="11"/><text class="t m" x="1107" y="1248.9">find_se</text>
<rect class="n" x="1071" y="1280.6" width="71" height="22" rx="11"/><text class="t r" x="1106.5" y="1295.5">vmstate_load</text>
<rect class="n" x="1168" y="1187.5" width="96" height="22" rx="11"/><text class="t g" x="1216" y="1202.4">qemu_peek_buffer</text>
<rect class="n" x="1280.6" y="1187.5" width="87.9" height="22" rx="11"/><text class="t g" x="1324.5" y="1202.4">qemu_fill_buffer</text>
<rect class="n" x="1389.5" y="1187.5" width="87.5" height="22" rx="11"/><text class="t m" x="1433.2" y="1202.4">socket_get_buffer</text>
<rect class="n" x="1496" y="1187.5" width="61" height="22" rx="11"/><text class="t g" x="1526.5" y="1202.4">qemu_recv</text>
<rect class="n" x="1177" y="1234" width="77" height="22" rx="11"/><text class="t g" x="1215.5" y="1248.9">qemu_file_skip</text>
<rect class="n" x="1168" y="1280.6" width="95" height="22" rx="11"/><text class="t r" x="1215.5" y="1295.5">vmstate_load_state</text>
<rect class="n" x="1291" y="1280.6" width="36" height="22" rx="11"/><text class="t b" x="1309" y="1295.5">...</text>
<rect class="n" x="1035" y="1327" width="144" height="22" rx="11"/><text class="t g" x="1107" y="1341.9" textLength="137" lengthAdjust="spacingAndGlyphs">cpu_synchronize_all_post_init</text>
<rect class="n" x="1210" y="1327" width="135" height="22" rx="11"/><text class="t g" x="1277.5" y="1341.9" textLength="128" lengthAdjust="spacingAndGlyphs">cpu_synchronize_post_init</text>
<rect class="n" x="1368" y="1327" width="37" height="22" rx="11"/><text class="t b" x="1386.5" y="1341.9">...</text>

<!-- ===== Callouts (host) ===== -->
<path class="br" d="M58,406.6 H52 V425.8 H58"/><path class="ld" d="M52,425.8 L36,443"/>
<text x="54" y="420" font-size="10.5" fill="#ff2020" font-family="Liberation Serif,Noto Serif CJK SC,serif">主机</text>
<path class="br" d="M157,408 H145 V424 H157"/><path class="ld" d="M145,424 L129,443"/>
<text class="c" x="147.5" y="419">MigrationState</text>
<path class="br" d="M414,454 H408 V469.6 H414"/><path class="ld" d="M408,469.6 L393,489.5"/>
<text class="c" x="410" y="464.5">socket</text>
<path class="br" d="M570,500.5 H564.3 V516 H570"/><path class="ld" d="M564.3,516 L549,536"/>
<text class="c" x="566" y="511">QEMUFileBuffered</text>
<path class="br" d="M776,500.5 H770.4 V516 H776"/><path class="ld" d="M770.4,516 L750.7,536"/>
<text class="c" x="772" y="511">QEMUFile</text>
<path class="br" d="M739,578 H733 V593 H739"/><path class="ld" d="M733,593 L719,624"/>
<text class="c" x="735" y="588">QEMUFile</text>
<text class="cz" x="321" y="768" text-anchor="end">主vm暂停运行</text>
<path class="br" d="M320.6,756.4 H330.4 V772.9 H320.6"/><path class="ld" d="M330.4,765 H340"/>
<rect x="274.7" y="874" width="235.6" height="11" fill="#f2f2f6"/>
<text class="c" x="275" y="883" textLength="235" lengthAdjust="spacingAndGlyphs">s-&gt;state != MIG_STATE_COMPLETED &amp;&amp; old_vm_running</text>
<text class="cz" x="343" y="907.5" text-anchor="end">动态迁移失败，主vm恢复运行</text>
<path class="br" d="M333.4,895.5 H346.9 V912.5 H333.4"/><path class="ld" d="M346.9,904 H366"/>
<path class="br" d="M711,872 H705.5 V887 H711"/><path class="ld" d="M705.5,881 L672.6,893"/>
<text class="cz" x="707.4" y="883.5">递归函数</text>
<path class="br" d="M1113,593.6 H1107.1 V608.4 H1113"/><path class="ld" d="M1107.1,608.4 L1091.8,628.6"/>
<text class="c" x="1109" y="604">QEMUFileBuffered-&gt;opaque</text>
<path class="br" d="M1330,593.6 H1323.7 V608.4 H1330"/><path class="ld" d="M1323.7,608.4 L1309.4,628.6"/>
<text class="c" x="1325.5" y="604">MigrationState</text>
<path class="br" d="M1408,593.6 H1402.3 V608.4 H1408"/><path class="ld" d="M1402.3,608.4 L1387,628.6"/>
<text class="c" x="1404" y="604">socket</text>
<path class="br" d="M1222,671 H1215.6 V685.8 H1222"/><path class="ld" d="M1200,651 L1215.6,671"/>
<text class="c" x="1217.5" y="681.5">MigrationState</text>

<!-- ===== Callouts (receiver) ===== -->
<path class="br" d="M59,920.5 H53 V939 H59"/><path class="ld" d="M53,939 L35.7,955"/>
<text x="56" y="933.5" font-size="10.5" fill="#ff2020" font-family="Liberation Serif,Noto Serif CJK SC,serif">备机</text>
<path class="br" d="M523,935 H517 V950 H523"/><path class="ld" d="M517,946 L487,955"/>
<text class="c" x="519" y="945">socket</text>
<path class="br" d="M544.5,973 H532 V1000.8 H544.5"/><path class="ld" d="M532,989 L487,1001.5"/>
<text class="cz" x="534.7" y="984">注册IO事件，加入</text>
<text class="cz" x="534.7" y="996">到io_handlers链表</text>
<path class="br" d="M819,1026 H813.6 V1041.7 H819"/><path class="ld" d="M813.6,1041.7 L797.5,1048"/>
<text class="c" x="815.5" y="1037">QEMUFileSocket</text>
<path class="br" d="M959,1012 H953.4 V1027.5 H959"/><path class="ld" d="M953.4,1027.5 L937.3,1048"/>
<text class="c" x="955.6" y="1023">QEMUFile</text>
<path class="br" d="M1175,1090 H1169 V1105 H1175"/><path class="ld" d="M1169,1105 L1154,1135.6"/>
<text class="c" x="1170.5" y="1100.5">QEMUFile</text>
<path class="br" d="M1455,1152.5 H1449.4 V1167.6 H1455"/><path class="ld" d="M1449.4,1167.6 L1434.3,1187.6"/>
<text class="c" x="1451.6" y="1163">QEMUFileSocket</text>
<path class="br" d="M1548,1152.5 H1542 V1167.6 H1548"/><path class="ld" d="M1542,1167.6 L1527,1187.6"/>
<text class="c" x="1544" y="1163">socket</text>
<path class="br" d="M1267,1260.2 H1261 V1276.4 H1267"/><path class="ld" d="M1261,1270 L1215,1280.6"/>
<text class="cz" x="1263" y="1271.5">递归函数</text>

<!-- ===== Watermark ===== -->
<path d="M1500,1312 A16,16 0 1 0 1498,1346" stroke="#1a7ac8" stroke-width="3" fill="none"/>
<path d="M1506,1316 A12,12 0 1 0 1493,1342" stroke="#55a8e0" stroke-width="2" fill="none"/>
<text x="1516" y="1326" font-size="12" fill="#555" font-family="Noto Sans CJK SC,sans-serif">运维网</text>
<text x="1500" y="1343" font-size="13" fill="#1a6ab8" font-family="Liberation Sans,sans-serif">iyunv.com</text>
</svg>
</body></html>
